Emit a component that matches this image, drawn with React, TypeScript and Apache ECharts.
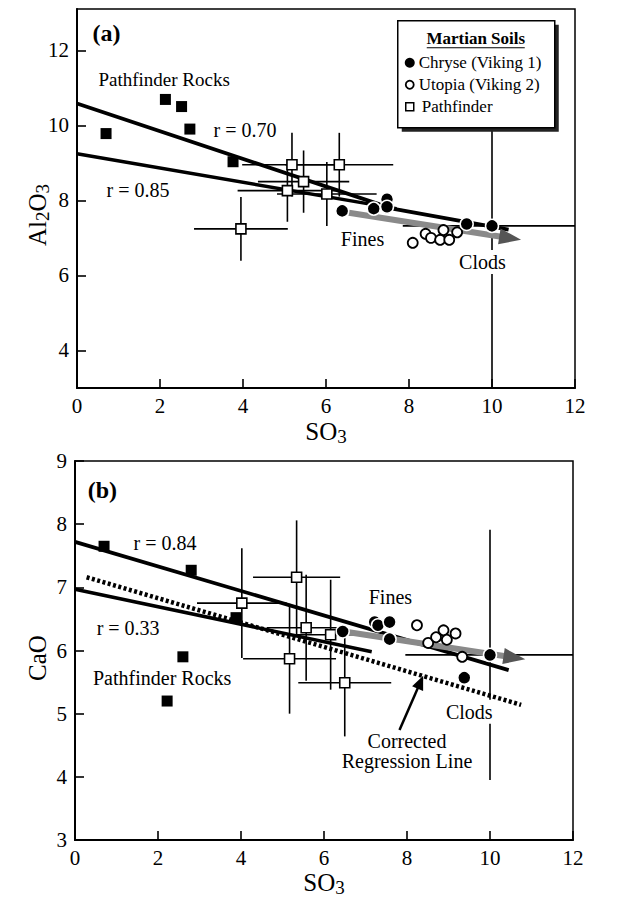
import React, { useEffect, useRef } from 'react';
import * as echarts from 'echarts';

// ---------------- data: panel (a) Al2O3 vs SO3 ----------------
const xTicks = [0, 2, 4, 6, 8, 10, 12];
const aYTicks = [4, 6, 8, 10, 12];
const bYTicks = [3, 4, 5, 6, 7, 8, 9];

const aRocks = [[0.7, 9.78], [2.13, 10.69], [2.52, 10.5], [2.72, 9.9], [3.76, 9.03]];
const aChryse = [[6.39, 7.72], [7.15, 7.78], [7.47, 8.03], [7.47, 7.83], [9.39, 7.37], [10.0, 7.32]];
const aUtopia = [[8.09, 6.87], [8.4, 7.11], [8.53, 7.0], [8.75, 6.95], [8.83, 7.21], [8.97, 6.95], [9.16, 7.15]];
// Pathfinder soils: SO3, Al2O3, SO3 error, Al2O3 error
const aPathfinder = [
  [5.18, 8.95, 1.2, 0.85], [6.32, 8.95, 1.3, 0.85], [5.46, 8.5, 1.1, 0.83],
  [5.07, 8.26, 1.2, 0.83], [6.02, 8.17, 1.2, 0.85], [3.95, 7.24, 1.13, 0.85],
];
const aChryseErr = [[10.0, 7.32, 2.15, 4.5]];
const aFit070 = [[0, 10.58], [7.6, 7.78], [10.4, 7.22]];
const aFit085 = [[0, 9.24], [7.7, 7.78]];
const aTrend = [[6.55, 7.67], [10.7, 6.95]];

// ---------------- data: panel (b) CaO vs SO3 ----------------
const bRocks = [[0.7, 7.65], [2.8, 7.27], [3.88, 6.52], [2.6, 5.9], [2.22, 5.2]];
const bChryse = [[6.45, 6.3], [7.22, 6.45], [7.3, 6.4], [7.58, 6.45], [7.58, 6.18], [9.38, 5.57], [10.0, 5.93]];
const bUtopia = [[8.24, 6.4], [8.51, 6.12], [8.7, 6.21], [8.88, 6.32], [8.96, 6.17], [9.17, 6.27], [9.33, 5.9]];
const bPathfinder = [
  [5.34, 7.16, 1.05, 0.9], [4.02, 6.75, 1.08, 0.87], [5.57, 6.36, 0.95, 0.84],
  [6.16, 6.25, 1.0, 0.87], [5.17, 5.87, 1.12, 0.87], [6.5, 5.49, 1.12, 0.85],
];
const bChryseErr = [[10.0, 5.93, 2.04, 1.98]];
const bFit084 = [[0, 7.72], [10.45, 5.69]];
const bFit033 = [[0, 6.97], [7.15, 5.98]];
const bCorrected = [[0.28, 7.16], [10.75, 5.14]];
const bTrend = [[6.48, 6.3], [10.85, 5.86]];
const bPointer = [[7.82, 4.74], [8.39, 5.6]];

// annotation texts anchored in data coordinates (centre of text)
const aNotes = [
  { text: '(a)', at: [0.71, 12.47], bold: true, size: 24 },
  { text: 'Pathfinder Rocks', at: [2.1, 11.21], size: 19 },
  { text: 'r = 0.70', at: [4.05, 9.88], size: 20 },
  { text: 'r = 0.85', at: [1.47, 8.28], size: 20 },
  { text: 'Fines', at: [6.88, 6.97], size: 20 },
  { text: 'Clods', at: [9.77, 6.36], size: 20, bg: true },
];
const bNotes = [
  { text: '(b)', at: [0.66, 8.54], bold: true, size: 24 },
  { text: 'r = 0.84', at: [2.17, 7.7], size: 20 },
  { text: 'r = 0.33', at: [1.28, 6.35], size: 20 },
  { text: 'Pathfinder Rocks', at: [2.1, 5.56], size: 20 },
  { text: 'Fines', at: [7.6, 6.85], size: 20 },
  { text: 'Clods', at: [9.5, 5.03], size: 20, bg: true },
  { text: 'Corrected\nRegression Line', at: [8.0, 4.41], size: 20 },
];

const FONT = '"Liberation Serif", "Times New Roman", serif';

function errorBars(data: number[][], idx: number) {
  return {
    type: 'custom',
    xAxisIndex: idx,
    yAxisIndex: idx,
    data,
    clip: true,
    silent: true,
    z: 2,
    encode: { x: 0, y: 1 },
    renderItem: (params: any, api: any) => {
      const x = api.value(0), y = api.value(1), ex = api.value(2), ey = api.value(3);
      const l = api.coord([x - ex, y]);
      const r = api.coord([x + ex, y]);
      const t = api.coord([x, y + ey]);
      const b = api.coord([x, y - ey]);
      const st = { stroke: '#000', lineWidth: 1.6 };
      return {
        type: 'group',
        children: [
          { type: 'line', shape: { x1: l[0], y1: l[1], x2: r[0], y2: r[1] }, style: st },
          { type: 'line', shape: { x1: t[0], y1: t[1], x2: b[0], y2: b[1] }, style: st },
        ],
      };
    },
  };
}

function notes(list: any[], idx: number) {
  return {
    type: 'custom',
    xAxisIndex: idx,
    yAxisIndex: idx,
    data: list.map((n) => n.at),
    clip: false,
    silent: true,
    z: 8,
    renderItem: (params: any, api: any) => {
      const n = list[params.dataIndex];
      const p = api.coord([api.value(0), api.value(1)]);
      return {
        type: 'text',
        x: p[0],
        y: p[1],
        z2: 10,
        style: {
          text: n.text,
          fill: '#000',
          fontFamily: FONT,
          fontSize: n.size,
          fontWeight: n.bold ? 'bold' : 'normal',
          align: 'center',
          verticalAlign: 'middle',
          lineHeight: n.size,
          backgroundColor: n.bg ? '#fff' : 'transparent',
          padding: n.bg ? [2, 2] : 0,
        },
      };
    },
  };
}

function fitLine(data: number[][], idx: number, width: number, type: any = 'solid') {
  return {
    type: 'line',
    xAxisIndex: idx,
    yAxisIndex: idx,
    data,
    symbol: 'none',
    showSymbol: false,
    silent: true,
    z: 3,
    lineStyle: { color: '#000', width, type, cap: 'butt' },
  };
}

// arrow drawn through the axes' scales: shaft + triangular head
function arrow(data: number[][], idx: number, shaft: string, head: string, width: number, headLen: number, headHalf: number) {
  return {
    type: 'custom',
    xAxisIndex: idx,
    yAxisIndex: idx,
    data: [[data[0][0], data[0][1], data[1][0], data[1][1]]],
    clip: false,
    silent: true,
    z: 4,
    encode: { x: [0, 2], y: [1, 3] },
    renderItem: (params: any, api: any) => {
      const a = api.coord([api.value(0), api.value(1)]);
      const b = api.coord([api.value(2), api.value(3)]);
      const dx = b[0] - a[0], dy = b[1] - a[1];
      const len = Math.sqrt(dx * dx + dy * dy);
      const ux = dx / len, uy = dy / len;
      const nx = -uy, ny = ux;
      const base = [b[0] - ux * headLen, b[1] - uy * headLen];
      return {
        type: 'group',
        children: [
          { type: 'line', shape: { x1: a[0], y1: a[1], x2: base[0] + ux * 2, y2: base[1] + uy * 2 }, style: { stroke: shaft, lineWidth: width } },
          {
            type: 'polygon',
            shape: { points: [b, [base[0] + nx * headHalf, base[1] + ny * headHalf], [base[0] - nx * headHalf, base[1] - ny * headHalf]] },
            style: { fill: head },
          },
        ],
      };
    },
  };
}

function scatter(data: number[][], idx: number, kind: string) {
  const styles: any = {
    rock: { symbol: 'rect', symbolSize: 11, itemStyle: { color: '#000', opacity: 1 } },
    chryse: { symbol: 'circle', symbolSize: 13, itemStyle: { color: '#000', borderColor: '#fff', borderWidth: 1.5, opacity: 1 } },
    utopia: { symbol: 'circle', symbolSize: 10, itemStyle: { color: '#fff', borderColor: '#000', borderWidth: 1.8, opacity: 1 } },
    pathfinder: { symbol: 'rect', symbolSize: 10, itemStyle: { color: '#fff', borderColor: '#000', borderWidth: 1.6, opacity: 1 } },
  };
  return {
    type: 'scatter',
    xAxisIndex: idx,
    yAxisIndex: idx,
    data: data.map((d) => [d[0], d[1]]),
    silent: true,
    z: 6,
    ...styles[kind],
  };
}

const axisText = { color: '#000', fontFamily: FONT, fontSize: 21 };
const nameStyle = {
  color: '#000',
  fontFamily: FONT,
  fontSize: 25,
  rich: {
    m: { fontFamily: FONT, fontSize: 25, color: '#000', lineHeight: 30, verticalAlign: 'middle' },
    s: { fontFamily: FONT, fontSize: 19, color: '#000', lineHeight: 19, verticalAlign: 'bottom' },
  },
};

function xAxis(gridIndex: number, gap: number) {
  return {
    type: 'value',
    gridIndex,
    min: 0,
    max: 12,
    interval: 2,
    name: '{m|SO}{s|3}',
    nameLocation: 'middle',
    nameGap: gap,
    nameTextStyle: nameStyle,
    axisLine: { show: true, lineStyle: { color: '#000', width: 2 } },
    axisTick: { show: true, inside: true, length: 9, lineStyle: { color: '#000', width: 1.6 } },
    axisLabel: { ...axisText, margin: 7, formatter: (v: number) => (xTicks.includes(v) ? String(v) : '') },
    splitLine: { show: false },
  };
}

function yAxis(gridIndex: number, min: number, max: number, ticks: number[]) {
  return {
    type: 'value',
    gridIndex,
    min,
    max,
    axisLine: { show: true, lineStyle: { color: '#000', width: 2 } },
    axisTick: { show: true, inside: true, length: 9, customValues: ticks, lineStyle: { color: '#000', width: 1.6 } },
    axisLabel: { ...axisText, margin: 8, customValues: ticks },
    splitLine: { show: false },
  };
}

const legendGraphic = {
  type: 'group',
  left: 397,
  top: 20,
  z: 20,
  children: [
    { type: 'rect', shape: { x: 4, y: 4, width: 157, height: 107 }, style: { fill: '#222' }, z: 20 },
    { type: 'rect', shape: { x: 0, y: 0, width: 157, height: 107 }, style: { fill: '#fff', stroke: '#000', lineWidth: 1.5 }, z: 21 },
    {
      type: 'text', x: 78, y: 18, z: 22,
      style: { text: 'Martian Soils', fill: '#000', fontFamily: FONT, fontSize: 17, fontWeight: 'bold', align: 'center', verticalAlign: 'middle' },
    },
    { type: 'line', shape: { x1: 29, y1: 27, x2: 127, y2: 27 }, style: { stroke: '#000', lineWidth: 1.2 }, z: 22 },
    { type: 'circle', shape: { cx: 12, cy: 42, r: 5 }, style: { fill: '#000' }, z: 22 },
    {
      type: 'text', x: 21, y: 42, z: 22,
      style: { text: 'Chryse (Viking 1)', fill: '#000', fontFamily: FONT, fontSize: 17, align: 'left', verticalAlign: 'middle' },
    },
    { type: 'circle', shape: { cx: 12, cy: 64, r: 4 }, style: { fill: '#fff', stroke: '#000', lineWidth: 1.8 }, z: 22 },
    {
      type: 'text', x: 21, y: 64, z: 22,
      style: { text: 'Utopia (Viking 2)', fill: '#000', fontFamily: FONT, fontSize: 17, align: 'left', verticalAlign: 'middle' },
    },
    { type: 'rect', shape: { x: 8, y: 82, width: 8, height: 8 }, style: { fill: '#fff', stroke: '#000', lineWidth: 1.5 }, z: 22 },
    {
      type: 'text', x: 24, y: 86, z: 22,
      style: { text: 'Pathfinder', fill: '#000', fontFamily: FONT, fontSize: 17, align: 'left', verticalAlign: 'middle' },
    },
  ],
};

const yTitleRich = {
  m: { fontFamily: FONT, fontSize: 25, fill: '#000', lineHeight: 30, verticalAlign: 'middle' },
  s: { fontFamily: FONT, fontSize: 19, fill: '#000', lineHeight: 19, verticalAlign: 'bottom' },
};

export default function App() {
  const ref = useRef<HTMLDivElement>(null);
  useEffect(() => {
    const chart = echarts.init(ref.current!, null, { renderer: 'svg' });
    const option: any = {
      animation: false,
      backgroundColor: '#fff',
      grid: [
        { left: 77, top: 9, width: 498, height: 379, show: true, borderColor: '#000', borderWidth: 1.5, backgroundColor: 'transparent' },
        { left: 75, top: 461, width: 498, height: 379, show: true, borderColor: '#000', borderWidth: 1.5, backgroundColor: 'transparent' },
      ],
      xAxis: [xAxis(0, 28), xAxis(1, 27)],
      yAxis: [yAxis(0, 3, 13.1, aYTicks), yAxis(1, 3, 9, bYTicks)],
      series: [
        // panel (a)
        errorBars(aPathfinder, 0),
        errorBars(aChryseErr, 0),
        fitLine(aFit085, 0, 3.5),
        fitLine(aFit070, 0, 3.8),
        arrow(aTrend, 0, '#8a8a8a', '#555', 6, 22, 8),
        scatter(aRocks, 0, 'rock'),
        scatter(aPathfinder, 0, 'pathfinder'),
        scatter(aUtopia, 0, 'utopia'),
        scatter(aChryse, 0, 'chryse'),
        notes(aNotes, 0),
        // panel (b)
        errorBars(bPathfinder, 1),
        errorBars(bChryseErr, 1),
        fitLine(bFit033, 1, 3.5),
        fitLine(bFit084, 1, 3.8),
        fitLine(bCorrected, 1, 4.5, [3, 2.5]),
        arrow(bTrend, 1, '#8a8a8a', '#555', 6, 22, 8),
        arrow(bPointer, 1, '#000', '#000', 2.5, 14, 6),
        scatter(bRocks, 1, 'rock'),
        scatter(bPathfinder, 1, 'pathfinder'),
        scatter(bUtopia, 1, 'utopia'),
        scatter(bChryse, 1, 'chryse'),
        notes(bNotes, 1),
      ],
      graphic: [
        legendGraphic,
        {
          type: 'text', x: 37, y: 215, rotation: Math.PI / 2, z: 20,
          style: { text: '{m|Al}{s|2}{m|O}{s|3}', rich: yTitleRich, fill: '#000', fontFamily: FONT, fontSize: 25, align: 'center', verticalAlign: 'middle' },
        },
        {
          type: 'text', x: 37, y: 658, rotation: Math.PI / 2, z: 20,
          style: { text: 'CaO', fill: '#000', fontFamily: FONT, fontSize: 25, align: 'center', verticalAlign: 'middle' },
        },
      ],
    };
    chart.setOption(option);
    return () => chart.dispose();
  }, []);
  return (
    <div
      ref={ref}
      style={{ position: 'fixed', left: 0, top: 0, width: 623, height: 899, background: '#fff' }}
    />
  );
}
